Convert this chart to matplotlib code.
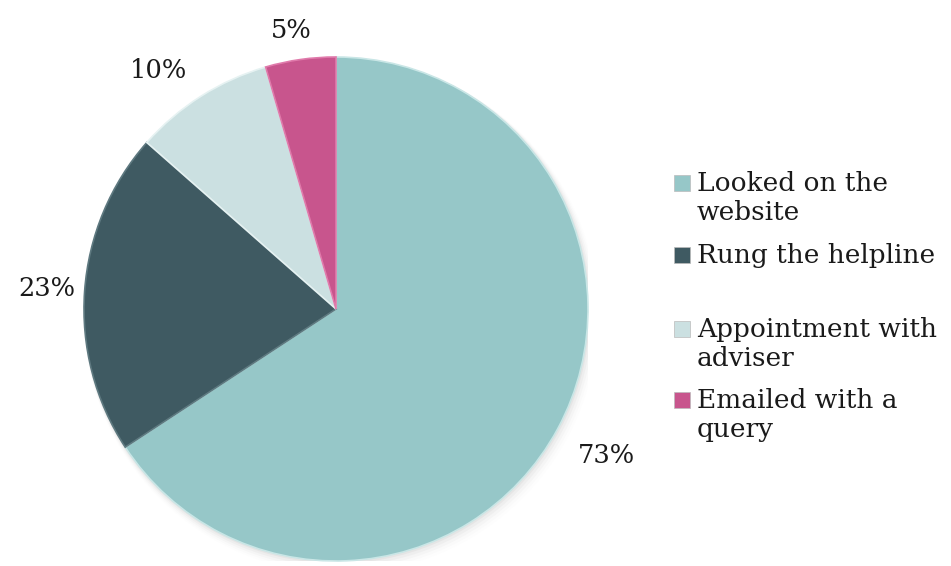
import numpy as np
import matplotlib.pyplot as plt
from matplotlib.patches import Rectangle

labels = ['Looked on the\nwebsite', 'Rung the helpline', 'Appointment with\nadviser', 'Emailed with a\nquery']
values = [73, 23, 10, 5]
colors = ['#96C7C8', '#3F5A62', '#CBE0E1', '#C8558D']
edges = ['#C9E6E6', '#5E7980', '#E6F2F2', '#E07AAB']
label_dist = [1.22, 1.15, 1.18, 1.12]
label_turn = [0, 0, 4.3, 1.0]   # degrees added to each label's mid angle

fig = plt.figure(figsize=(9.51, 5.66), dpi=100)
ax = fig.add_axes([84 / 951, 5 / 566, 504 / 951, 504 / 566])

font = 'DejaVu Serif'

# soft shadow underneath the pie
for i, a in enumerate(np.linspace(0.08, 0.01, 6)):
    ax.add_patch(plt.Circle((0.004 * i, -0.006 * i), 1.0 + 0.004 * i,
                            color='#808080', alpha=a, lw=0, zorder=0))

wedges, _ = ax.pie(values, colors=colors, startangle=90, counterclock=False,
                   radius=1.0, wedgeprops=dict(linewidth=1.2))
for w, ec in zip(wedges, edges):
    w.set_edgecolor(ec)
    w.set_zorder(2)

ax.set_xlim(-1, 1)
ax.set_ylim(-1, 1)
ax.set_aspect('equal')
ax.axis('off')

for w, v, d, t in zip(wedges, values, label_dist, label_turn):
    ang = np.deg2rad((w.theta1 + w.theta2) / 2 + t)
    ax.text(d * np.cos(ang), d * np.sin(ang), f'{v}%', ha='center', va='center',
            fontsize=18.5, family=font, color='#1a1a1a', clip_on=False)

# legend drawn at the right
leg_y = [183, 255, 329, 400]
for lab, c, y in zip(labels, colors, leg_y):
    fig.patches.append(Rectangle((674 / 951, 1 - (y + 8) / 566), 16 / 951, 16 / 566,
                                 transform=fig.transFigure, facecolor=c,
                                 edgecolor='#bbbbbb', lw=0.5))
    fig.text(697 / 951, 1 - (y - 12) / 566, lab, ha='left', va='top',
             fontsize=19, family=font, color='#1a1a1a', linespacing=1.18)

fig.savefig('out.png', dpi=100, facecolor='white')
